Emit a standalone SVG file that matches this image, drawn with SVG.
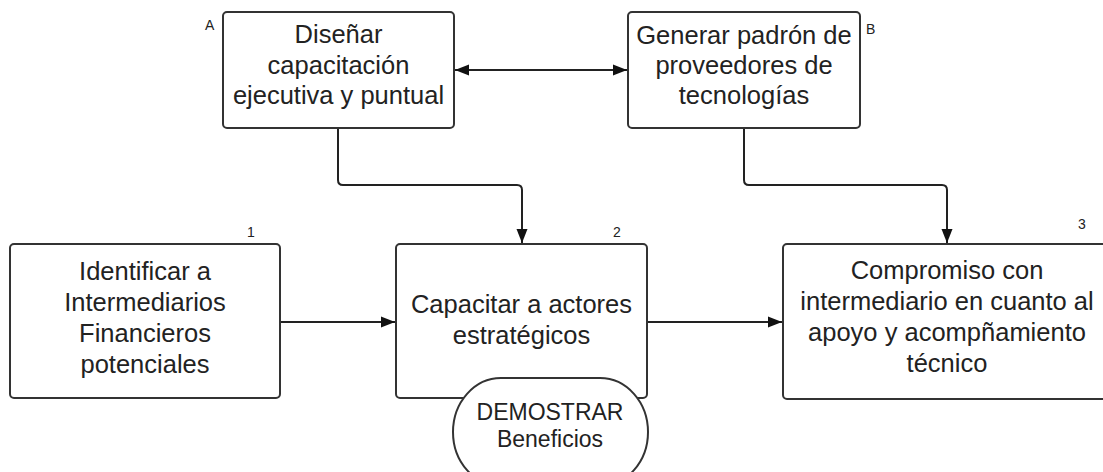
<svg xmlns="http://www.w3.org/2000/svg" width="1103" height="472" viewBox="0 0 1103 472">
<defs>
<style>
.box{fill:#fff;stroke:#333;stroke-width:2}
.t{font-family:"Liberation Sans",Arial,sans-serif;font-size:25.5px;fill:#222;text-anchor:middle}
.e{font-family:"Liberation Sans",Arial,sans-serif;font-size:23px;fill:#222;text-anchor:middle}
.lbl{font-family:"Liberation Sans",Arial,sans-serif;font-size:14px;fill:#222}
.c{fill:none;stroke:#222;stroke-width:2}
</style>
<marker id="ah" markerUnits="userSpaceOnUse" markerWidth="14" markerHeight="12" refX="14" refY="5.5" orient="auto-start-reverse" viewBox="0 0 14 11">
<path d="M0,0 L14,5.5 L0,11 z" fill="#111"/>
</marker>
</defs>
<rect width="1103" height="472" fill="#fff"/>
<g id="connectors">
<path class="c" d="M455,70 H627" marker-start="url(#ah)" marker-end="url(#ah)"/>
<path class="c" d="M338,128 V180 Q338,185 343,185 H517 Q522,185 522,190 V243" marker-end="url(#ah)"/>
<path class="c" d="M744,128 V180 Q744,185 749,185 H942 Q947,185 947,190 V243" marker-end="url(#ah)"/>
<path class="c" d="M280,322 H395" marker-end="url(#ah)"/>
<path class="c" d="M647,322 H782" marker-end="url(#ah)"/>
</g>
<g id="nodeA">
<rect class="box" x="223" y="12" width="231" height="116" rx="4"/>
<text class="t" x="338.5" y="43">Diseñar</text>
<text class="t" x="338.5" y="73.5">capacitación</text>
<text class="t" x="338.5" y="104">ejecutiva y puntual</text>
<text class="lbl" x="205" y="30">A</text>
</g>
<g id="nodeB">
<rect class="box" x="628" y="12" width="232" height="116" rx="4"/>
<text class="t" x="744" y="44">Generar padrón de</text>
<text class="t" x="744" y="74">proveedores de</text>
<text class="t" x="744" y="104">tecnologías</text>
<text class="lbl" x="866" y="34">B</text>
</g>
<g id="node1">
<rect class="box" x="10" y="244" width="270" height="154" rx="4"/>
<text class="t" x="145" y="280">Identificar a</text>
<text class="t" x="145" y="311">Intermediarios</text>
<text class="t" x="145" y="342">Financieros</text>
<text class="t" x="145" y="373">potenciales</text>
<text class="lbl" x="247" y="237">1</text>
</g>
<g id="node2">
<rect class="box" x="396" y="244" width="251" height="154" rx="4"/>
<text class="t" x="521.5" y="313">Capacitar a actores</text>
<text class="t" x="521.5" y="344">estratégicos</text>
<text class="lbl" x="613" y="237">2</text>
</g>
<g id="node3">
<rect class="box" x="783" y="244" width="330" height="155" rx="4"/>
<text class="t" x="947" y="279">Compromiso con</text>
<text class="t" x="947" y="310">intermediario en cuanto al</text>
<text class="t" x="947" y="341">apoyo y acompñamiento</text>
<text class="t" x="947" y="372">técnico</text>
<text class="lbl" x="1078" y="229">3</text>
</g>
<g id="nodeDemostrar">
<rect class="box" x="453" y="378" width="195" height="108" rx="48" ry="54"/>
<text class="e" x="550" y="420">DEMOSTRAR</text>
<text class="e" x="550" y="447">Beneficios</text>
</g>
</svg>
